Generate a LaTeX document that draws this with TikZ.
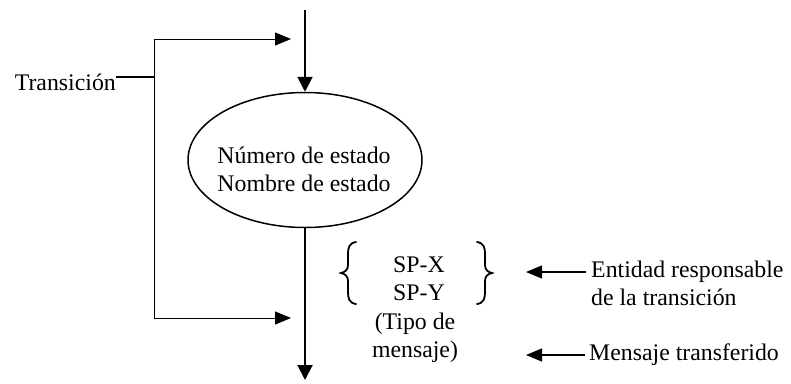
\documentclass[tikz,border=0pt]{standalone}
\usepackage{fontspec}
\setmainfont{Liberation Serif}
\usetikzlibrary{arrows.meta,shapes.geometric}
\tikzset{
  txt/.style={inner sep=0pt, font=\fontsize{23.8}{28}\selectfont, align=center},
  mainline/.style={line width=2pt, -{Triangle[length=15pt,width=15pt]}},
  thinline/.style={line width=1pt},
  thinarrow/.style={line width=1.2pt, -{Triangle[length=16pt,width=13pt]}},
  bracestyle/.style={line width=1.8pt, line cap=round}
}
\begin{document}
\begin{tikzpicture}[x=1pt,y=-1pt]
\useasboundingbox (0,0) rectangle (791,383);
% state
\node[draw, ellipse, line width=1.5pt, minimum width=234pt, minimum height=135pt, inner sep=0pt] (st) at (305,160) {};
\node[txt] (stt) at (304,169) {Número de estado\\Nombre de estado};
\coordinate (top) at (305,10);
\coordinate (bot) at (305,380);
\draw[mainline] (top) -- (st.north);
\draw[mainline] (st.south) -- (bot);
% transition bracket
\coordinate (b1) at (291,39);
\coordinate (b2) at (154,39);
\coordinate (b3) at (154,318);
\coordinate (b4) at (291,318);
\coordinate (jn) at (154,77);
\draw[thinline, {Triangle[length=16pt,width=13pt]}-{Triangle[length=16pt,width=13pt]}] (b1) -- (b2) -- (b3) -- (b4);
\node[txt, anchor=base east] (tr) at (116,90) {Transición};
\draw[line width=1.5pt] (tr.east |- jn) -- (jn);
% braces
\draw[bracestyle] (356,242) .. controls (349,243) and (348,248) .. (348,254) -- (348,265) .. controls (348,270) and (345,272) .. (341,273) .. controls (345,274) and (348,276) .. (348,281) -- (348,292) .. controls (348,298) and (349,303) .. (356,304);
\draw[bracestyle] (477,242) .. controls (484,243) and (485,248) .. (485,254) -- (485,265) .. controls (485,270) and (488,272) .. (492,273) .. controls (488,274) and (485,276) .. (485,281) -- (485,292) .. controls (485,298) and (484,303) .. (477,304);
\node[txt] (sp) at (419,279) {SP-X\\SP-Y};
\node[txt] (tipo) at (415,338) {(Tipo de\\mensaje)};
% right labels
\node[txt, anchor=west, align=left] (ent) at (591,283) {Entidad responsable\\de la transición};
\node[txt, anchor=west] (men) at (589,355) {Mensaje transferido};
\coordinate (ea) at (526,272);
\coordinate (ma) at (526,355);
\draw[thinarrow] ([xshift=-5pt]ent.west |- ea) -- (ea);
\draw[thinarrow] ([xshift=-4pt]men.west |- ma) -- (ma);
\end{tikzpicture}
\end{document}
